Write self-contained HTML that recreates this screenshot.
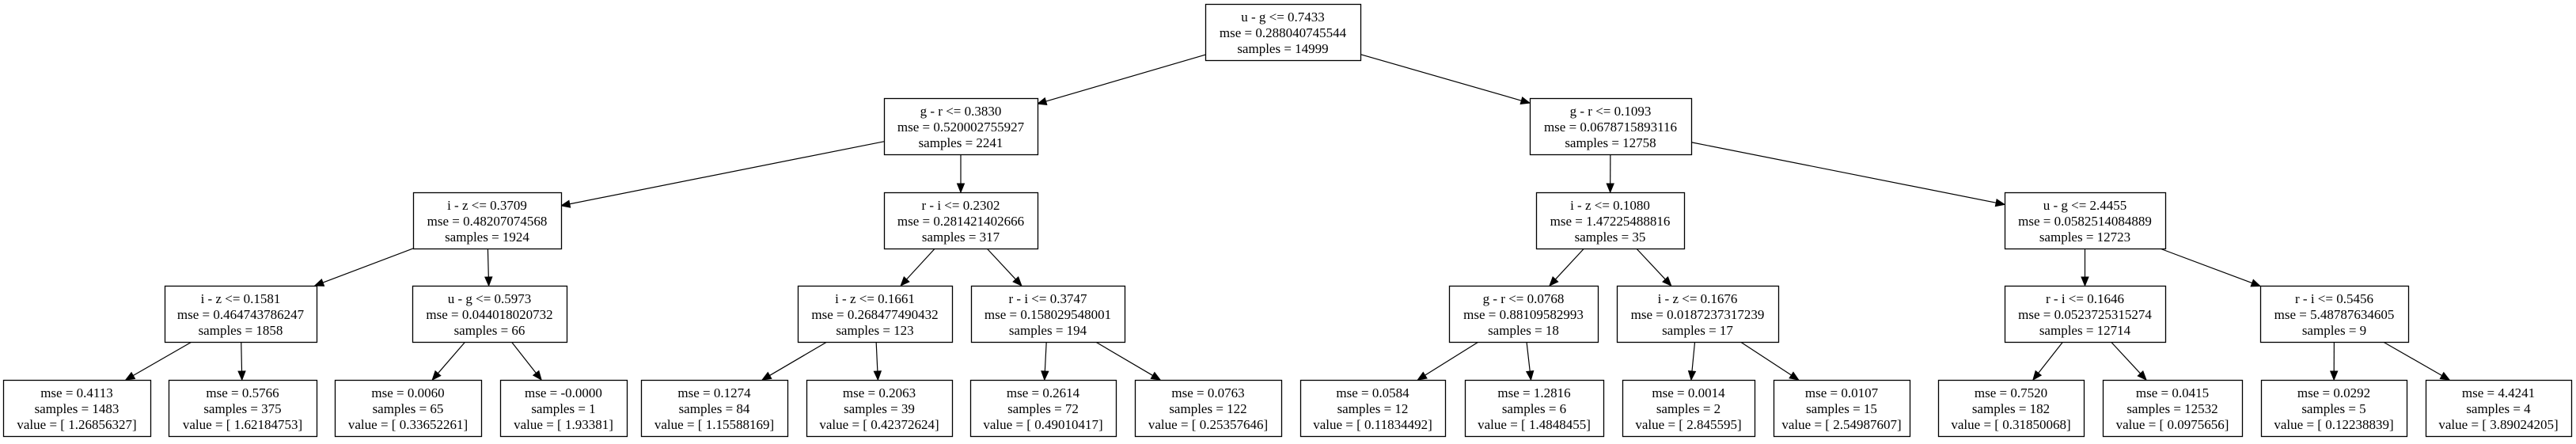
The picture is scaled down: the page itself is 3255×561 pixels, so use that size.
<!DOCTYPE html>
<html><head><meta charset="utf-8"><style>
html,body{margin:0;padding:0;background:#fff;}
body{width:3255px;height:556px;overflow:hidden;}
svg text{font-family:"Liberation Serif",serif;font-size:17px;fill:#000;}
</style></head><body>
<svg id="s" width="3255" height="556" xmlns="http://www.w3.org/2000/svg"></svg>
<script>
var L=[5,124,243,361,480],H=71;
var N={
r:[1523,1719,0,["u - g <= 0.7433","mse = 0.288040745544","samples = 14999"]],
a:[1117,1311,1,["g - r <= 0.3830","mse = 0.520002755927","samples = 2241"]],
b:[1933,2137,1,["g - r <= 0.1093","mse = 0.0678715893116","samples = 12758"]],
a1:[522,709,2,["i - z <= 0.3709","mse = 0.48207074568","samples = 1924"]],
a2:[1117,1311,2,["r - i <= 0.2302","mse = 0.281421402666","samples = 317"]],
b1:[1941,2128,2,["i - z <= 0.1080","mse = 1.47225488816","samples = 35"]],
b2:[2533,2736,2,["u - g <= 2.4455","mse = 0.0582514084889","samples = 12723"]],
c1:[208,400,3,["i - z <= 0.1581","mse = 0.464743786247","samples = 1858"]],
c2:[521,716,3,["u - g <= 0.5973","mse = 0.044018020732","samples = 66"]],
c3:[1008,1203,3,["i - z <= 0.1661","mse = 0.268477490432","samples = 123"]],
c4:[1227,1421,3,["r - i <= 0.3747","mse = 0.158029548001","samples = 194"]],
c5:[1831,2019,3,["g - r <= 0.0768","mse = 0.88109582993","samples = 18"]],
c6:[2043,2247,3,["i - z <= 0.1676","mse = 0.0187237317239","samples = 17"]],
c7:[2533,2736,3,["r - i <= 0.1646","mse = 0.0523725315274","samples = 12714"]],
c8:[2856,3043,3,["r - i <= 0.5456","mse = 5.48787634605","samples = 9"]],
l1:[4,190,4,["mse = 0.4113","samples = 1483","value = [ 1.26856327]"]],
l2:[213,400,4,["mse = 0.5766","samples = 375","value = [ 1.62184753]"]],
l3:[423,608,4,["mse = 0.0060","samples = 65","value = [ 0.33652261]"]],
l4:[632,792,4,["mse = -0.0000","samples = 1","value = [ 1.93381]"]],
l5:[810,995,4,["mse = 0.1274","samples = 84","value = [ 1.15588169]"]],
l6:[1019,1203,4,["mse = 0.2063","samples = 39","value = [ 0.42372624]"]],
l7:[1226,1410,4,["mse = 0.2614","samples = 72","value = [ 0.49010417]"]],
l8:[1434,1619,4,["mse = 0.0763","samples = 122","value = [ 0.25357646]"]],
l9:[1643,1826,4,["mse = 0.0584","samples = 12","value = [ 0.11834492]"]],
l10:[1851,2026,4,["mse = 1.2816","samples = 6","value = [ 1.4848455]"]],
l11:[2050,2217,4,["mse = 0.0014","samples = 2","value = [ 2.845595]"]],
l12:[2241,2413,4,["mse = 0.0107","samples = 15","value = [ 2.54987607]"]],
l13:[2449,2633,4,["mse = 0.7520","samples = 182","value = [ 0.31850068]"]],
l14:[2657,2833,4,["mse = 0.0415","samples = 12532","value = [ 0.0975656]"]],
l15:[2857,3041,4,["mse = 0.0292","samples = 5","value = [ 0.12238839]"]],
l16:[3065,3249,4,["mse = 4.4241","samples = 4","value = [ 3.89024205]"]]
};
var E=[["r","a"],["r","b"],["a","a1"],["a","a2"],["b","b1"],["b","b2"],
["a1","c1"],["a1","c2"],["a2","c3"],["a2","c4"],["b1","c5"],["b1","c6"],["b2","c7"],["b2","c8"],
["c1","l1"],["c1","l2"],["c2","l3"],["c2","l4"],["c3","l5"],["c3","l6"],["c4","l7"],["c4","l8"],
["c5","l9"],["c5","l10"],["c6","l11"],["c6","l12"],["c7","l13"],["c7","l14"],["c8","l15"],["c8","l16"]];
var h="";
function box(k){var n=N[k];return {x0:n[0],x1:n[1],y0:L[n[2]],y1:L[n[2]]+H,cx:(n[0]+n[1])/2,cy:L[n[2]]+H/2};}
function clip(b,dx,dy){var t=1e9;if(dx)t=Math.min(t,Math.abs((b.x1-b.x0)/2/dx));if(dy)t=Math.min(t,Math.abs(H/2/dy));return [b.cx+dx*t,b.cy+dy*t];}
E.forEach(function(e){var A=box(e[0]),B=box(e[1]);var dx=B.cx-A.cx,dy=B.cy-A.cy;
var p=clip(A,dx,dy),q=clip(B,-dx,-dy);var len=Math.hypot(q[0]-p[0],q[1]-p[1]);var ux=(q[0]-p[0])/len,uy=(q[1]-p[1])/len;
var bx=q[0]-ux*11,by=q[1]-uy*11;
h+='<line x1="'+p[0]+'" y1="'+p[1]+'" x2="'+bx+'" y2="'+by+'" stroke="#000" stroke-width="1.2"/>';
h+='<polygon points="'+q[0]+','+q[1]+' '+(bx-uy*4.5)+','+(by+ux*4.5)+' '+(bx+uy*4.5)+','+(by-ux*4.5)+'" fill="#000" stroke="#000"/>';});
for(var k in N){var b=box(k),n=N[k];
h+='<rect x="'+(b.x0+0.5)+'" y="'+(b.y0+0.5)+'" width="'+(b.x1-b.x0)+'" height="'+H+'" fill="#fff" stroke="#000" stroke-width="1.3"/>';
for(var i=0;i<3;i++)h+='<text x="'+b.cx+'" y="'+(b.y0+22+i*20)+'" text-anchor="middle">'+n[3][i].replace(/</g,"&lt;")+'</text>';}
document.getElementById("s").innerHTML=h;
</script>
</body></html>
